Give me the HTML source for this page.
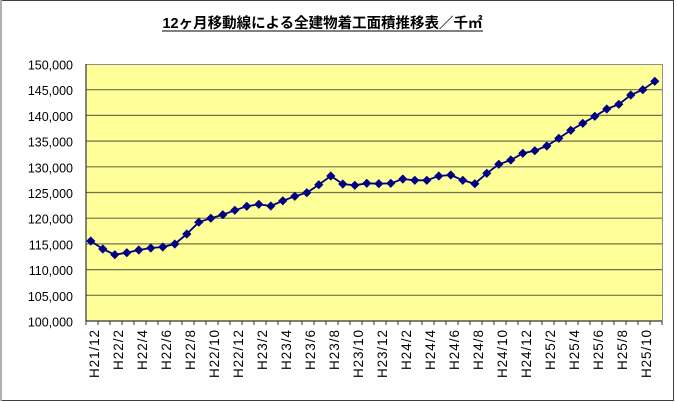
<!DOCTYPE html>
<html><head><meta charset="utf-8"><style>
html,body{margin:0;padding:0;background:#fff;}
svg{display:block;}
</style></head><body>
<svg width="677" height="402" viewBox="0 0 677 402" xmlns="http://www.w3.org/2000/svg">
<defs>
<marker id="dm" viewBox="-5 -5 10 10" markerWidth="10" markerHeight="10" refX="0" refY="0" markerUnits="userSpaceOnUse">
<path d="M0,-4.6 L4.6,0 L0,4.6 L-4.6,0 Z" fill="#000080"/>
</marker>
</defs>
<rect x="0" y="0" width="677" height="402" fill="#fff"/>
<!-- frame -->
<line x1="0" y1="0.5" x2="674" y2="0.5" stroke="#404040" stroke-width="1"/>
<line x1="673.5" y1="0" x2="673.5" y2="401" stroke="#404040" stroke-width="1"/>
<line x1="0" y1="400.5" x2="674" y2="400.5" stroke="#404040" stroke-width="1"/>
<rect x="0" y="0" width="2" height="401" fill="#b0b0b0"/>
<!-- title -->
<text x="162.5" y="28" font-family="'Liberation Sans','Noto Sans CJK JP',sans-serif" font-size="14.5" font-weight="bold" fill="#000" textLength="320" lengthAdjust="spacingAndGlyphs">12ヶ月移動線による全建物着工面積推移表／千㎡</text>
<line x1="162" y1="31" x2="483" y2="31" stroke="#000" stroke-width="1"/>
<!-- plot area -->
<rect x="86" y="64" width="576" height="257" fill="#FFFF99"/>
<g stroke="#70704a" stroke-width="1.2">
<line x1="86" y1="89.7" x2="662" y2="89.7"/>
<line x1="86" y1="115.4" x2="662" y2="115.4"/>
<line x1="86" y1="141.1" x2="662" y2="141.1"/>
<line x1="86" y1="166.8" x2="662" y2="166.8"/>
<line x1="86" y1="192.5" x2="662" y2="192.5"/>
<line x1="86" y1="218.2" x2="662" y2="218.2"/>
<line x1="86" y1="243.9" x2="662" y2="243.9"/>
<line x1="86" y1="269.6" x2="662" y2="269.6"/>
<line x1="86" y1="295.3" x2="662" y2="295.3"/>
</g>
<line x1="86" y1="64.5" x2="662.5" y2="64.5" stroke="#909090" stroke-width="1"/>
<line x1="662.5" y1="64" x2="662.5" y2="321" stroke="#909090" stroke-width="1"/>
<line x1="86" y1="64" x2="86" y2="321.5" stroke="#333" stroke-width="1.2"/>
<line x1="86" y1="321" x2="662" y2="321" stroke="#333" stroke-width="1.2"/>
<g stroke="#333" stroke-width="1">
<path d="M86,321v4M98,321v4M110,321v4M122,321v4M134,321v4M146,321v4M158,321v4M170,321v4M182,321v4M194,321v4M206,321v4M218,321v4M230,321v4M242,321v4M254,321v4M266,321v4M278,321v4M290,321v4M302,321v4M314,321v4M326,321v4M338,321v4M350,321v4M362,321v4M374,321v4M386,321v4M398,321v4M410,321v4M422,321v4M434,321v4M446,321v4M458,321v4M470,321v4M482,321v4M494,321v4M506,321v4M518,321v4M530,321v4M542,321v4M554,321v4M566,321v4M578,321v4M590,321v4M602,321v4M614,321v4M626,321v4M638,321v4M650,321v4M662,321v4"/>
</g>
<!-- y labels -->
<g font-family="'Liberation Sans',sans-serif" font-size="12.5" fill="#000" text-anchor="end">
<text x="73" y="69.5">150,000</text>
<text x="73" y="95.2">145,000</text>
<text x="73" y="120.9">140,000</text>
<text x="73" y="146.6">135,000</text>
<text x="73" y="172.3">130,000</text>
<text x="73" y="198">125,000</text>
<text x="73" y="223.7">120,000</text>
<text x="73" y="249.4">115,000</text>
<text x="73" y="275.1">110,000</text>
<text x="73" y="300.8">105,000</text>
<text x="73" y="326.5">100,000</text>
</g>
<!-- x labels -->
<g font-family="'Liberation Sans',sans-serif" font-size="13.5" fill="#000" text-anchor="end" lengthAdjust="spacingAndGlyphs">
<text transform="translate(99,330) rotate(-90)" textLength="48">H21/12</text>
<text transform="translate(123,330) rotate(-90)" textLength="40">H22/2</text>
<text transform="translate(147,330) rotate(-90)" textLength="40">H22/4</text>
<text transform="translate(171,330) rotate(-90)" textLength="40">H22/6</text>
<text transform="translate(195,330) rotate(-90)" textLength="40">H22/8</text>
<text transform="translate(219,330) rotate(-90)" textLength="48">H22/10</text>
<text transform="translate(243,330) rotate(-90)" textLength="48">H22/12</text>
<text transform="translate(267,330) rotate(-90)" textLength="40">H23/2</text>
<text transform="translate(291,330) rotate(-90)" textLength="40">H23/4</text>
<text transform="translate(315,330) rotate(-90)" textLength="40">H23/6</text>
<text transform="translate(339,330) rotate(-90)" textLength="40">H23/8</text>
<text transform="translate(363,330) rotate(-90)" textLength="48">H23/10</text>
<text transform="translate(387,330) rotate(-90)" textLength="48">H23/12</text>
<text transform="translate(411,330) rotate(-90)" textLength="40">H24/2</text>
<text transform="translate(435,330) rotate(-90)" textLength="40">H24/4</text>
<text transform="translate(459,330) rotate(-90)" textLength="40">H24/6</text>
<text transform="translate(483,330) rotate(-90)" textLength="40">H24/8</text>
<text transform="translate(507,330) rotate(-90)" textLength="48">H24/10</text>
<text transform="translate(531,330) rotate(-90)" textLength="48">H24/12</text>
<text transform="translate(555,330) rotate(-90)" textLength="40">H25/2</text>
<text transform="translate(579,330) rotate(-90)" textLength="40">H25/4</text>
<text transform="translate(603,330) rotate(-90)" textLength="40">H25/6</text>
<text transform="translate(627,330) rotate(-90)" textLength="40">H25/8</text>
<text transform="translate(651,330) rotate(-90)" textLength="48">H25/10</text>
</g>
<!-- series -->
<polyline fill="none" stroke="#000080" stroke-width="1.8" stroke-linejoin="round"
marker-start="url(#dm)" marker-mid="url(#dm)" marker-end="url(#dm)"
points="90.8,241 102.8,249 114.8,254.7 126.8,252.7 138.8,250 150.8,248 162.8,247 174.8,244 186.8,234 198.8,222.2 210.8,218.2 222.8,214.7 234.8,210.3 246.8,206.3 258.8,204.3 270.8,206 282.8,200.8 294.8,196.3 306.8,192.7 318.8,184.7 330.8,176 342.8,184 354.8,185.3 366.8,183.3 378.8,183.7 390.8,183.3 402.8,179 414.8,180.3 426.8,180.3 438.8,176 450.8,175 462.8,180.3 474.8,183.7 486.8,173.3 498.8,164.3 510.8,160 522.8,153.3 534.8,150.7 546.8,146 558.8,138.3 570.8,130.3 582.8,123.3 594.8,116.3 606.8,109 618.8,104.3 630.8,95 642.8,89.7 654.8,81.3"/>
</svg>
</body></html>
